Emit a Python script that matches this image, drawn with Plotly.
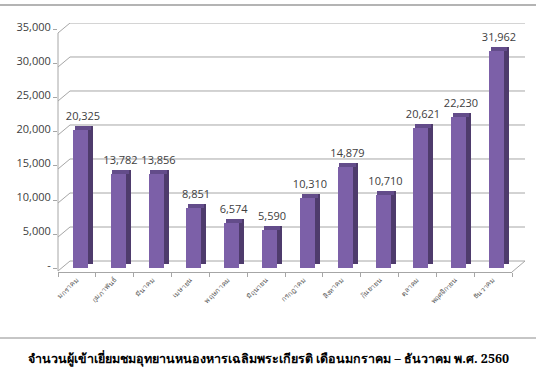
import plotly.graph_objects as go

months = ["มกราคม", "กุมภาพันธ์", "มีนาคม", "เมษายน", "พฤษภาคม", "มิถุนายน",
          "กรกฎาคม", "สิงหาคม", "กันยายน", "ตุลาคม", "พฤศจิกายน", "ธันวาคม"]
visitors = [20325, 13782, 13856, 8851, 6574, 5590, 10310, 14879, 10710, 20621, 22230, 31962]
tick_values = [0, 5000, 10000, 15000, 20000, 25000, 30000, 35000]
tick_labels = ["-", "5,000", "10,000", "15,000", "20,000", "25,000", "30,000", "35,000"]
title_text = "จำนวนผู้เข้าเยี่ยมชมอุทยานหนองหารเฉลิมพระเกียรติ เดือนมกราคม – ธันวาคม พ.ศ. 2560"

W, H = 536, 386
L, R, T, B = 58, 24, 23, 110
plot_w = W - L - R
plot_h = H - T - B
px = 147.05          # data units per pixel on y
depth_px = 4
depth = depth_px * px

FRONT = "#7c60a8"
SIDE = "#4e3b6c"
TOP = "#634c8a"
GRID = "#a6a6a6"

fig = go.Figure()

# side face
fig.add_trace(go.Bar(
    x=months, y=visitors, base=[depth] * len(visitors),
    offset=0.29, width=0.132, marker=dict(color=SIDE, line=dict(width=0)),
    hoverinfo="skip", showlegend=False))
# front face
fig.add_trace(go.Bar(
    x=months, y=visitors,
    offset=-0.106, width=0.397, marker=dict(color=FRONT, line=dict(width=0)),
    showlegend=False))
# top face (carries the value labels)
fig.add_trace(go.Bar(
    x=months, y=[depth] * len(visitors), base=visitors,
    offset=-0.06, width=0.43, marker=dict(color=TOP, line=dict(width=0)),
    text=[f"{v:,}" for v in visitors], textposition="outside",
    constraintext="none", textangle=0,
    textfont=dict(family="Open Sans", size=11, color="#404040"),
    cliponaxis=False, hoverinfo="skip", showlegend=False))

shapes = []
front_shift = 3 * px
back_shift = 7 * px
dx_back = 12 / plot_w
x_right = (525 - L) / plot_w
for v in tick_values:
    shapes.append(dict(
        type="path", xref="paper", yref="y", layer="below",
        path=f"M0,{v - front_shift} L{dx_back},{v + back_shift} L{x_right},{v + back_shift}",
        line=dict(color=GRID, width=1)))
# front vertical axis line
shapes.append(dict(type="path", xref="paper", yref="y", layer="below",
                   path=f"M0,{tick_values[0] - front_shift} L0,{tick_values[-1] - front_shift}",
                   line=dict(color=GRID, width=1)))
# right floor edge
shapes.append(dict(type="path", xref="paper", yref="y", layer="below",
                   path=f"M1,{tick_values[0] - front_shift - px} L{x_right},{tick_values[0] + back_shift}",
                   line=dict(color=GRID, width=1)))
# decorative page lines
shapes.append(dict(type="line", xref="paper", yref="paper",
                   x0=-L / plot_w, x1=(W - L) / plot_w,
                   y0=(T + plot_h - 5) / plot_h, y1=(T + plot_h - 5) / plot_h,
                   line=dict(color="#b4b4b4", width=2)))
shapes.append(dict(type="line", xref="paper", yref="paper",
                   x0=-L / plot_w, x1=(W - L) / plot_w,
                   y0=(T + plot_h - 338) / plot_h, y1=(T + plot_h - 338) / plot_h,
                   line=dict(color="#8c8c8c", width=1)))

fig.update_layout(
    width=W, height=H,
    margin=dict(l=L, r=R, t=T, b=B, pad=0),
    paper_bgcolor="white", plot_bgcolor="white",
    barmode="overlay",
    bargap=0,
    shapes=shapes,
    xaxis=dict(
        type="category", range=[-0.5, len(months) - 0.5],
        showgrid=False, showline=True, linecolor=GRID, linewidth=1,
        anchor="free", position=4 / plot_h,
        ticks="outside", tickson="boundaries", ticklen=4, tickcolor=GRID,
        tickangle=-45,
        tickfont=dict(family="Noto Sans, DejaVu Sans, sans-serif", size=7, color="#595959"),
        fixedrange=True),
    yaxis=dict(
        range=[-8 * px, (plot_h - 8) * px],
        showgrid=False, zeroline=False, showline=False,
        tickvals=tick_values, ticktext=tick_labels,
        ticks="outside", ticklen=4, tickcolor=GRID,
        ticklabelshift=-3,
        tickfont=dict(family="Open Sans", size=11, color="#404040"),
        fixedrange=True),
    annotations=[dict(
        text=f"<b>{title_text}</b>", xref="paper", yref="paper",
        x=(268 - L) / plot_w, y=(T + plot_h - 358) / plot_h,
        xanchor="center", yanchor="middle", showarrow=False,
        font=dict(family="Noto Serif, DejaVu Serif, serif", size=12.5, color="#000000"))],
)

fig.write_html("out.html")
